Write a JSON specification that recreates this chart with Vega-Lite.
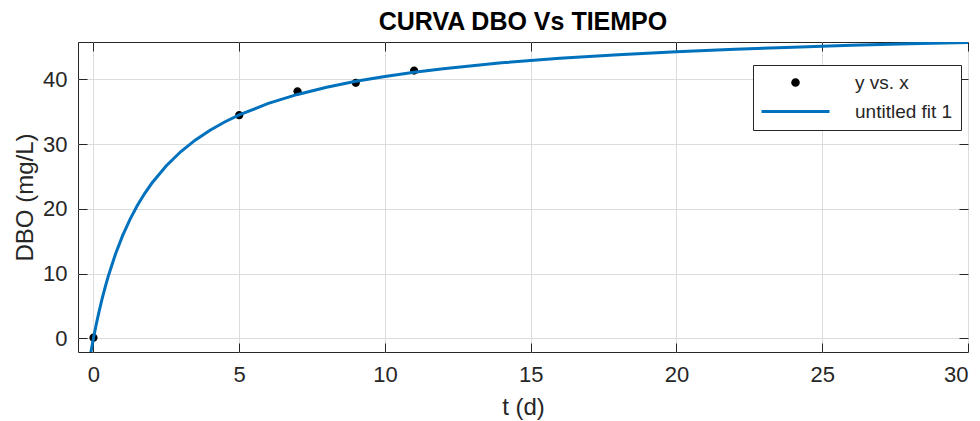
{
  "$schema": "https://vega.github.io/schema/vega-lite/v6.json",
  "width": 890,
  "height": 310,
  "autosize": {"type": "none"},
  "padding": {"left": 78, "top": 42, "right": 12, "bottom": 69},
  "background": "white",
  "config": {
    "font": "Liberation Sans",
    "view": {"stroke": "#262626", "strokeWidth": 1},
    "axis": {
      "labelFont": "Liberation Sans",
      "labelFontSize": 22,
      "labelColor": "#262626",
      "titleFont": "Liberation Sans",
      "titleFontSize": 24,
      "titleFontWeight": "normal",
      "titleColor": "#262626",
      "domain": false,
      "tickColor": "#262626",
      "tickSize": -9,
      "gridColor": "#dcdcdc",
      "gridWidth": 1
    }
  },
  "title": {
    "text": "CURVA DBO Vs TIEMPO",
    "font": "Liberation Sans",
    "fontSize": 25,
    "fontWeight": "bold",
    "color": "black",
    "anchor": "middle",
    "frame": "group",
    "offset": 7
  },
  "datasets": {
    "pts": [
      {"t": 0, "dbo": 0.1, "series": "y vs. x"},
      {"t": 5, "dbo": 34.45, "series": "y vs. x"},
      {"t": 7, "dbo": 38.15, "series": "y vs. x"},
      {"t": 9, "dbo": 39.45, "series": "y vs. x"},
      {"t": 11, "dbo": 41.35, "series": "y vs. x"}
    ],
    "fit": [
      {"t": -0.09, "dbo": -2.21, "series": "untitled fit 1"},
      {"t": 0, "dbo": 0, "series": "untitled fit 1"},
      {"t": 0.1, "dbo": 2.239, "series": "untitled fit 1"},
      {"t": 0.2, "dbo": 4.281, "series": "untitled fit 1"},
      {"t": 0.3, "dbo": 6.152, "series": "untitled fit 1"},
      {"t": 0.4, "dbo": 7.873, "series": "untitled fit 1"},
      {"t": 0.5, "dbo": 9.46, "series": "untitled fit 1"},
      {"t": 0.75, "dbo": 12.938, "series": "untitled fit 1"},
      {"t": 1, "dbo": 15.851, "series": "untitled fit 1"},
      {"t": 1.25, "dbo": 18.328, "series": "untitled fit 1"},
      {"t": 1.5, "dbo": 20.459, "series": "untitled fit 1"},
      {"t": 1.75, "dbo": 22.312, "series": "untitled fit 1"},
      {"t": 2, "dbo": 23.939, "series": "untitled fit 1"},
      {"t": 2.5, "dbo": 26.658, "series": "untitled fit 1"},
      {"t": 3, "dbo": 28.843, "series": "untitled fit 1"},
      {"t": 3.5, "dbo": 30.637, "series": "untitled fit 1"},
      {"t": 4, "dbo": 32.136, "series": "untitled fit 1"},
      {"t": 4.5, "dbo": 33.407, "series": "untitled fit 1"},
      {"t": 5, "dbo": 34.498, "series": "untitled fit 1"},
      {"t": 6, "dbo": 36.276, "series": "untitled fit 1"},
      {"t": 7, "dbo": 37.663, "series": "untitled fit 1"},
      {"t": 8, "dbo": 38.774, "series": "untitled fit 1"},
      {"t": 9, "dbo": 39.686, "series": "untitled fit 1"},
      {"t": 10, "dbo": 40.445, "series": "untitled fit 1"},
      {"t": 11, "dbo": 41.089, "series": "untitled fit 1"},
      {"t": 12, "dbo": 41.642, "series": "untitled fit 1"},
      {"t": 14, "dbo": 42.54, "series": "untitled fit 1"},
      {"t": 16, "dbo": 43.241, "series": "untitled fit 1"},
      {"t": 18, "dbo": 43.801, "series": "untitled fit 1"},
      {"t": 20, "dbo": 44.26, "series": "untitled fit 1"},
      {"t": 22, "dbo": 44.643, "series": "untitled fit 1"},
      {"t": 24, "dbo": 44.967, "series": "untitled fit 1"},
      {"t": 26, "dbo": 45.245, "series": "untitled fit 1"},
      {"t": 28, "dbo": 45.486, "series": "untitled fit 1"},
      {"t": 30, "dbo": 45.697, "series": "untitled fit 1"}
    ]
  },
  "resolve": {"axis": {"x": "independent", "y": "independent"}},
  "layer": [
    {
      "data": {"name": "pts"},
      "mark": {"type": "point", "filled": true, "opacity": 1, "size": 8.6, "clip": true},
      "encoding": {
        "x": {
          "field": "t", "type": "quantitative",
          "scale": {"domain": [-0.53, 30], "nice": false, "zero": false},
          "axis": {"values": [0, 5, 10, 15, 20, 25, 30], "title": "t (d)", "labelPadding": 21, "titlePadding": 10}
        },
        "y": {
          "field": "dbo", "type": "quantitative",
          "scale": {"domain": [-2.12, 45.76], "nice": false, "zero": false},
          "axis": {"values": [0, 10, 20, 30, 40], "title": "DBO (mg/L)", "labelPadding": 20, "titlePadding": 5}
        },
        "color": {
          "field": "series", "type": "nominal",
          "scale": {"domain": ["y vs. x", "untitled fit 1"], "range": ["black", "#0072BD"]},
          "legend": {
            "title": null, "orient": "none", "legendX": 675, "legendY": 23,
            "fillColor": "white", "strokeColor": "#262626", "padding": 8,
            "labelFont": "Liberation Sans", "labelFontSize": 19, "labelColor": "#262626",
            "symbolSize": 4, "symbolStrokeWidth": 3, "symbolOffset": 25,
            "rowPadding": 9, "labelOffset": 50
          }
        },
        "shape": {
          "field": "series", "type": "nominal",
          "scale": {"domain": ["y vs. x", "untitled fit 1"], "range": ["M-2.8,0A2.8,2.8,0,1,1,2.8,0A2.8,2.8,0,1,1,-2.8,0Z", "M-34,0H34"]},
          "legend": {
            "title": null, "orient": "none", "legendX": 675, "legendY": 23,
            "fillColor": "white", "strokeColor": "#262626", "padding": 8,
            "labelFont": "Liberation Sans", "labelFontSize": 19, "labelColor": "#262626",
            "symbolSize": 4, "symbolStrokeWidth": 3, "symbolOffset": 25,
            "rowPadding": 9, "labelOffset": 50
          }
        }
      }
    },
    {
      "data": {"name": "fit"},
      "mark": {"type": "line", "strokeWidth": 3, "clip": true},
      "encoding": {
        "x": {"field": "t", "type": "quantitative", "axis": {"orient": "top", "values": [0, 5, 10, 15, 20, 25, 30], "labels": false, "title": null, "grid": false}},
        "y": {"field": "dbo", "type": "quantitative", "axis": {"orient": "right", "values": [0, 10, 20, 30, 40], "labels": false, "title": null, "grid": false}},
        "color": {
          "field": "series", "type": "nominal",
          "legend": {
            "title": null, "orient": "none", "legendX": 675, "legendY": 23,
            "fillColor": "white", "strokeColor": "#262626", "padding": 8,
            "labelFont": "Liberation Sans", "labelFontSize": 19, "labelColor": "#262626",
            "symbolSize": 4, "symbolStrokeWidth": 3, "symbolOffset": 25,
            "rowPadding": 9, "labelOffset": 50
          }
        }
      }
    }
  ]
}
